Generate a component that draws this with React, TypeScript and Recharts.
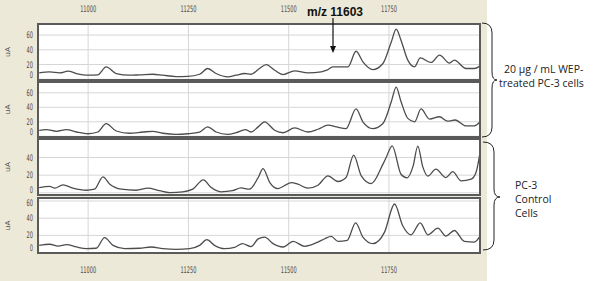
import { LineChart, Line, XAxis, YAxis, CartesianGrid } from 'recharts'

const mzTicks = [11000, 11250, 11500, 11750]
const uaTicks = [0, 20, 40, 60]
const uaTicksLow = [0, 20, 40]
const mzDomain = [10875, 11977]

// 20 ug/mL WEP-treated PC-3, replicate 1
const treated1Mz = [10878, 10904, 10929, 10950, 10971, 11000, 11024, 11045, 11070, 11103, 11128, 11161, 11186, 11219, 11248, 11278, 11298, 11319, 11348, 11369, 11390, 11406, 11427, 11444, 11465, 11486, 11515, 11548, 11581, 11595, 11610, 11648, 11668, 11685, 11710, 11735, 11756, 11768, 11780, 11797, 11814, 11828, 11855, 11876, 11901, 11913, 11942, 11963, 11977]
const treated1Ua = [8.7, 10, 8.7, 11, 7.8, 5.5, 6, 16.9, 7.8, 5.5, 6, 6.8, 5.5, 3.7, 4, 6.8, 14.6, 7.8, 3.2, 5.5, 7.8, 6.8, 14.6, 20, 12.3, 6.4, 11.4, 8.7, 10, 12.3, 16.9, 16.9, 38, 23.7, 13.2, 21.4, 51, 68, 53, 26, 16.9, 29, 22.8, 32.7, 22, 26, 14.6, 14.6, 18.2]

// 20 ug/mL WEP-treated PC-3, replicate 2
const treated2Mz = [10878, 10896, 10921, 10946, 10971, 11000, 11024, 11045, 11070, 11103, 11137, 11161, 11186, 11219, 11248, 11278, 11298, 11319, 11348, 11369, 11392, 11406, 11424, 11440, 11465, 11486, 11515, 11548, 11573, 11598, 11619, 11643, 11668, 11685, 11710, 11735, 11756, 11768, 11780, 11797, 11814, 11830, 11851, 11876, 11896, 11915, 11942, 11963, 11977]
const treated2Ua = [8.3, 9.2, 6.9, 9.2, 5.9, 3.5, 5.9, 17.6, 7.3, 4.2, 5.9, 6.9, 4.2, 2.6, 3.5, 5.9, 13, 5.9, 2.6, 5, 9.2, 5.9, 13, 20, 8.3, 4.9, 11.5, 5.9, 9.7, 15.3, 13, 10.6, 37.8, 20, 10.6, 17.6, 48, 68, 48, 24.7, 20, 37.8, 23.7, 27, 21, 22.5, 14.4, 14.4, 20]

// PC-3 control, replicate 1
const control1Mz = [10878, 10904, 10917, 10937, 10962, 10995, 11016, 11037, 11054, 11083, 11120, 11149, 11178, 11203, 11236, 11261, 11287, 11307, 11331, 11360, 11381, 11402, 11424, 11436, 11453, 11473, 11507, 11523, 11548, 11573, 11598, 11623, 11643, 11662, 11681, 11706, 11735, 11743, 11758, 11780, 11795, 11810, 11822, 11834, 11847, 11867, 11892, 11909, 11930, 11955, 11967, 11977]
const control1Ua = [5.9, 7.2, 5.3, 9, 5.3, 2.9, 4.1, 18, 9.7, 4.1, 2.9, 5.3, 2.4, 0.3, 1.1, 4.1, 14.7, 5.9, 1.1, 2.4, 5.6, 4.1, 17.3, 27.5, 11.6, 4.8, 11.6, 9.7, 5.3, 8.6, 19.2, 12.8, 17.3, 42.7, 19.2, 10.5, 32.5, 40, 53.3, 21, 17, 30, 53, 30, 19, 26.8, 17.3, 24, 13.5, 15.4, 23, 45.7]

// PC-3 control, replicate 2
const control2Mz = [10878, 10904, 10925, 10946, 10971, 10995, 11020, 11041, 11062, 11091, 11128, 11157, 11186, 11219, 11253, 11278, 11296, 11315, 11340, 11365, 11385, 11406, 11424, 11440, 11461, 11486, 11511, 11540, 11573, 11590, 11606, 11623, 11646, 11667, 11685, 11710, 11739, 11764, 11784, 11805, 11828, 11847, 11872, 11892, 11913, 11938, 11963, 11977]
const control2Ua = [8.4, 9.7, 7.6, 9.2, 6.5, 4.6, 5, 17.3, 8.4, 4.7, 5, 6.5, 4.7, 3.8, 4.7, 8.4, 15, 8.4, 4.6, 6, 10.4, 6.9, 16, 18, 10.4, 6.5, 13, 7.3, 12.2, 16.1, 18.8, 13, 14.3, 34.6, 18, 10.4, 23.8, 56.5, 31.5, 20.7, 34.6, 20.7, 28.4, 19.2, 25.7, 13, 12.2, 19.2]

const toRows = (mz: number[], ua: number[]) => mz.map((m, i) => ({ mz: m, ua: ua[i] }))

const panels = [
  { rows: toRows(treated1Mz, treated1Ua), top: 24, h: 56, yDomain: [-1, 75], yTicks: uaTicks, axis: 'top' },
  { rows: toRows(treated2Mz, treated2Ua), top: 82, h: 55, yDomain: [-1, 75], yTicks: uaTicks, axis: 'none' },
  { rows: toRows(control1Mz, control1Ua), top: 139, h: 56, yDomain: [-2.5, 61], yTicks: uaTicksLow, axis: 'none' },
  { rows: toRows(control2Mz, control2Ua), top: 198, h: 55, yDomain: [-0.5, 63.5], yTicks: uaTicks, axis: 'bottom' },
]

const PLOT_LEFT = 38
const PLOT_W = 442
const TOP_AXIS_H = 24
const BOTTOM_AXIS_H = 28

function NarrowTick({ x, y, payload, textAnchor, baseline }: any) {
  return (
    <text
      transform={`translate(${x},${y}) scale(0.56,1)`}
      textAnchor={textAnchor}
      dominantBaseline={baseline || 'central'}
      fontSize={9}
      fill="#4a4a4a"
      fontFamily="'DejaVu Sans', sans-serif"
    >
      {payload.value}
    </text>
  )
}

function Panel({ rows, top, h, yDomain, yTicks, axis }: any) {
  const extraTop = axis === 'top' ? TOP_AXIS_H : 0
  const extraBottom = axis === 'bottom' ? BOTTOM_AXIS_H : 0
  // keep the y labels inside their own panel
  const yTick = (p: any) => {
    const minY = extraTop + 4.5
    const maxY = extraTop + h - 2.5
    if (p.y > maxY - 1) return <NarrowTick {...p} y={Math.min(p.y, maxY)} baseline="auto" />
    return <NarrowTick {...p} y={Math.max(p.y, minY)} />
  }
  return (
    <>
      <div
        style={{
          position: 'absolute',
          left: PLOT_LEFT,
          top,
          width: PLOT_W,
          height: h,
          background: '#fff',
        }}
      />
      <div style={{ position: 'absolute', left: 0, top: top - extraTop }}>
        <LineChart
          width={PLOT_LEFT + PLOT_W}
          height={h + extraTop + extraBottom}
          data={rows}
          margin={{ top: 0, right: 0, bottom: 0, left: 0 }}
        >
          <CartesianGrid stroke="#d6d6d6" />
          <XAxis
            dataKey="mz"
            type="number"
            domain={mzDomain}
            allowDataOverflow
            ticks={mzTicks}
            hide={axis === 'none'}
            orientation={axis === 'top' ? 'top' : 'bottom'}
            height={axis === 'top' ? TOP_AXIS_H : BOTTOM_AXIS_H}
            axisLine={false}
            tickLine={false}
            tickSize={0}
            tickMargin={axis === 'top' ? 15 : 17}
            tick={<NarrowTick />}
            interval={0}
          />
          <YAxis
            type="number"
            domain={yDomain}
            allowDataOverflow
            ticks={yTicks}
            width={PLOT_LEFT}
            axisLine={false}
            tickLine={false}
            tickSize={0}
            tickMargin={5}
            tick={yTick}
            interval={0}
            label={{
              value: 'uA',
              angle: -90,
              position: 'insideLeft',
              offset: 7,
              fontSize: 8,
              fill: '#4a4a4a',
              style: { textAnchor: 'middle' },
            }}
          />
          <Line
            dataKey="ua"
            type="monotone"
            stroke="#4d4d4d"
            strokeWidth={1.3}
            dot={false}
            isAnimationActive={false}
          />
        </LineChart>
      </div>
      <div
        style={{
          position: 'absolute',
          left: PLOT_LEFT - 1,
          top: top - 1,
          width: PLOT_W + 2,
          height: h + 2,
          border: '2px solid #5a5a5a',
          boxSizing: 'border-box',
          pointerEvents: 'none',
        }}
      />
    </>
  )
}

export default function App() {
  return (
    <div
      style={{
        position: 'absolute',
        left: 0,
        top: 0,
        width: 600,
        height: 281,
        background: '#fff',
        overflow: 'hidden',
        fontFamily: "'Open Sans', sans-serif",
      }}
    >
      <div style={{ position: 'absolute', left: 0, top: 0, width: 487, height: 281, background: '#ece9d8' }} />
      {panels.map((p, i) => (
        <Panel key={i} {...p} />
      ))}
      <svg width={600} height={281} style={{ position: 'absolute', left: 0, top: 0, pointerEvents: 'none' }}>
        <text
          x={335}
          y={12}
          textAnchor="middle"
          dominantBaseline="central"
          fontFamily="'Liberation Sans', Arial, sans-serif"
          fontWeight="bold"
          fontSize={12}
          fill="#111"
        >
          m/z 11603
        </text>
        <line x1={333} y1={18} x2={333} y2={47} stroke="#111" strokeWidth={1.2} />
        <polygon points="330,46 336,46 333,53" fill="#111" />

        <path
          d="M 482 23 Q 492 23 492 33 L 492 72 Q 492 80 497 80 Q 492 80 492 88 L 492 127 Q 492 137 482 137"
          fill="none"
          stroke="#222"
          strokeWidth={1}
        />
        <path
          d="M 483 142 Q 494 142 494 152 L 494 189 Q 494 197 500 197 Q 494 197 494 205 L 494 240 Q 494 250 483 250"
          fill="none"
          stroke="#222"
          strokeWidth={1}
        />
        <g fontFamily="'Open Sans', sans-serif" fontSize={10.5} fill="#222" dominantBaseline="central">
          <text x={504} y={69}>20 µg / mL WEP-</text>
          <text x={499} y={83}>treated PC-3 cells</text>
          <text x={515} y={185}>PC-3</text>
          <text x={515} y={199}>Control</text>
          <text x={515} y={213}>Cells</text>
        </g>
      </svg>
    </div>
  )
}
